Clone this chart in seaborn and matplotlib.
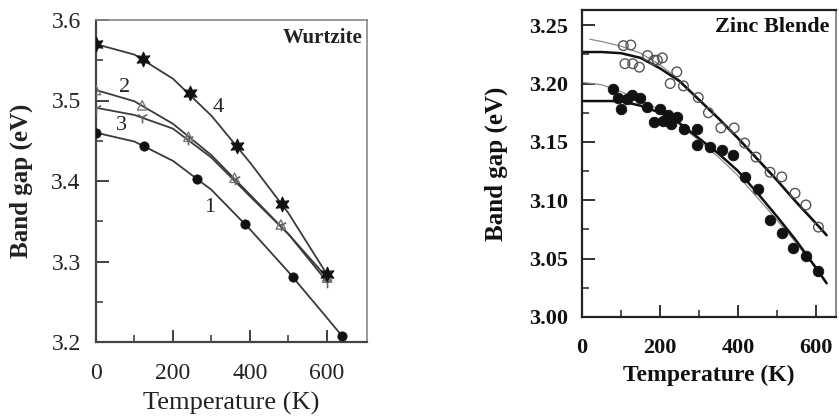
import matplotlib
matplotlib.use("Agg")
import matplotlib.pyplot as plt
import seaborn as sns
from matplotlib.ticker import FixedLocator

sns.set_theme(style="white")
plt.rcParams['font.family'] = ['Liberation Serif', 'DejaVu Serif']

# ---------------- Wurtzite (left) data: measured points ----------------
w_T1 = [0, 124, 262, 386, 511, 640]
w_E1 = [3.460, 3.443, 3.402, 3.346, 3.281, 3.207]
w_T2 = [0, 120, 240, 360, 480, 600]
w_E2 = [3.513, 3.494, 3.455, 3.404, 3.346, 3.280]
w_T3 = [0, 120, 240, 360, 480, 600]
w_E3 = [3.491, 3.479, 3.452, 3.402, 3.345, 3.275]
w_T4 = [0, 122, 244, 365, 482, 600]
w_E4 = [3.570, 3.552, 3.509, 3.443, 3.372, 3.284]
# fitted curves
w_fit_T = [0, 100, 200, 300, 400, 500, 600]
w_fit1_T = [0, 100, 200, 300, 400, 500, 600, 640]
w_fit1 = [3.460, 3.449, 3.425, 3.389, 3.340, 3.287, 3.230, 3.207]
w_fit2 = [3.513, 3.499, 3.471, 3.432, 3.383, 3.334, 3.280]
w_fit3 = [3.491, 3.482, 3.465, 3.429, 3.381, 3.334, 3.275]
w_fit4 = [3.570, 3.557, 3.527, 3.481, 3.423, 3.360, 3.284]
w_labels = ["1", "2", "3", "4"]
w_label_T = [296, 75, 67, 317]
w_label_E = [3.367, 3.516, 3.469, 3.491]

# ---------------- Zinc blende (right) data ----------------
zb_open_T = [106, 125, 110, 130, 147, 168, 185, 193, 206, 243, 226, 260, 298, 324,
             356, 390, 417, 446, 482, 512, 546, 574, 606]
zb_open_E = [3.2325, 3.233, 3.217, 3.217, 3.214, 3.224, 3.220, 3.220, 3.222, 3.210,
             3.200, 3.198, 3.188, 3.175, 3.162, 3.162, 3.149, 3.137, 3.124, 3.120,
             3.106, 3.096, 3.077]
zb_fill_T = [80, 93, 99, 115, 127, 149, 167, 185, 200, 208, 221, 227, 244, 262, 294,
             296, 328, 358, 388, 418, 450, 482, 512, 540, 574, 606]
zb_fill_E = [3.195, 3.188, 3.178, 3.187, 3.190, 3.188, 3.180, 3.167, 3.178, 3.168,
             3.173, 3.165, 3.171, 3.161, 3.161, 3.147, 3.146, 3.143, 3.139, 3.120,
             3.110, 3.083, 3.072, 3.059, 3.052, 3.039]

fit_T = [0, 50, 100, 150, 200, 250, 300, 350, 400, 450, 500, 550, 600, 627]
open_thick = [3.227, 3.227, 3.226, 3.222, 3.213, 3.202, 3.186, 3.170, 3.153, 3.135,
              3.117, 3.098, 3.080, 3.070]
open_thin_T = [20, 50, 100, 150, 200, 250, 300, 350, 400, 450, 500, 550, 600, 627]
open_thin = [3.238, 3.236, 3.232, 3.226, 3.216, 3.203, 3.187, 3.171, 3.154, 3.136,
             3.118, 3.099, 3.081, 3.071]
fill_thick = [3.185, 3.185, 3.185, 3.181, 3.175, 3.166, 3.153, 3.140, 3.125, 3.106,
              3.086, 3.065, 3.042, 3.029]
fill_thin = [3.201, 3.199, 3.193, 3.186, 3.177, 3.165, 3.151, 3.137, 3.121, 3.102,
             3.083, 3.063, 3.041, 3.028]

fig = plt.figure(figsize=(8.39, 4.16), dpi=100)
fig.patch.set_facecolor("white")

W, H = 839, 416
def axes_px(x0, y0, x1, y1):
    return fig.add_axes([x0 / W, (H - y1) / H, (x1 - x0) / W, (y1 - y0) / H])

# ================= Left panel =================
ax1 = axes_px(96, 20, 367, 342)
ax1.set_facecolor("white")
lc = "#3a3a3a"
for T, E in [(w_fit1_T, w_fit1), (w_fit_T, w_fit2), (w_fit_T, w_fit3), (w_fit_T, w_fit4)]:
    sns.lineplot(x=T, y=E, ax=ax1, color=lc, lw=1.3, sort=False)
sns.scatterplot(x=w_T1, y=w_E1, ax=ax1, marker="o", s=45, color="#111111",
                edgecolor="#111111", zorder=5)
sns.scatterplot(x=w_T2, y=w_E2, ax=ax1, marker="^", s=45, facecolor="none",
                edgecolor="#777777", linewidth=1.0, zorder=5)
sns.scatterplot(x=w_T3, y=w_E3, ax=ax1, marker="1", s=70, color="#666666",
                linewidth=1.2, zorder=5)
sns.scatterplot(x=w_T4, y=w_E4, ax=ax1, marker=(6, 1, 0), s=110, color="#111111",
                edgecolor="#111111", zorder=6)
for lab, t, e in zip(w_labels, w_label_T, w_label_E):
    ax1.text(t, e, lab, fontsize=16, ha="center", va="center", color="#222222")
ax1.text(0.985, 0.945, "Wurtzite", transform=ax1.transAxes, ha="right", va="center",
         fontsize=15, fontweight="bold", color="#222222")

ax1.set_xlim(0, 704)
ax1.set_ylim(3.2, 3.6)
ax1.set_xticks([0, 200, 400, 600])
ax1.set_xticklabels(["0", "200", "400", "600"])
ax1.set_yticks([3.2, 3.3, 3.4, 3.5, 3.6])
ax1.set_yticklabels(["3.2", "3.3", "3.4", "3.5", "3.6"])
ax1.xaxis.set_minor_locator(FixedLocator([100, 300, 500]))
ax1.yaxis.set_minor_locator(FixedLocator([3.25, 3.35, 3.45, 3.55]))
ax1.tick_params(axis="both", which="major", direction="in", length=9, width=1.3,
                labelsize=17, colors="#333333", labelcolor="#222222")
ax1.tick_params(axis="both", which="minor", direction="in", length=5, width=1.1,
                colors="#333333")
ax1.tick_params(axis="x", which="both", pad=15, bottom=True)
ax1.tick_params(axis="y", which="both", pad=11, left=True)
for sp in ["left", "bottom"]:
    ax1.spines[sp].set_color("#444444")
    ax1.spines[sp].set_linewidth(1.6)
for sp in ["top", "right"]:
    ax1.spines[sp].set_color("#888888")
    ax1.spines[sp].set_linewidth(1.2)
ax1.set_xlabel("Temperature (K)", fontsize=19, color="#222222")
ax1.set_ylabel("Band gap (eV)", fontsize=18, fontweight="bold", color="#222222")
ax1.xaxis.label.set_va("center")
ax1.yaxis.label.set_va("center")
ax1.xaxis.set_label_coords(0.5, (342 - 403) / 322)
ax1.yaxis.set_label_coords((21 - 96) / 271, 0.5)

# ================= Right panel =================
ax2 = axes_px(582, 10, 836, 317)
ax2.set_facecolor("white")
sns.lineplot(x=open_thin_T, y=open_thin, ax=ax2, color="#8a8a8a", lw=0.9, sort=False)
sns.lineplot(x=fit_T, y=fill_thin, ax=ax2, color="#8a8a8a", lw=0.9, sort=False)
sns.lineplot(x=fit_T, y=open_thick, ax=ax2, color="#111111", lw=1.8, sort=False)
sns.lineplot(x=fit_T, y=fill_thick, ax=ax2, color="#111111", lw=1.8, sort=False)
sns.scatterplot(x=zb_open_T, y=zb_open_E, ax=ax2, marker="o", s=48, facecolor="none",
                edgecolor="#555555", linewidth=1.0, zorder=5)
sns.scatterplot(x=zb_fill_T, y=zb_fill_E, ax=ax2, marker="o", s=58, color="#111111",
                edgecolor="#111111", zorder=5)
ax2.text(0.975, 0.945, "Zinc Blende", transform=ax2.transAxes, ha="right", va="center",
         fontsize=16, fontweight="bold", color="#111111")

ax2.set_xlim(0, 651)
ax2.set_ylim(3.0, 3.263)
ax2.set_xticks([0, 200, 400, 600])
ax2.set_xticklabels(["0", "200", "400", "600"], fontweight="bold")
ax2.set_yticks([3.00, 3.05, 3.10, 3.15, 3.20, 3.25])
ax2.set_yticklabels(["3.00", "3.05", "3.10", "3.15", "3.20", "3.25"], fontweight="bold")
ax2.xaxis.set_minor_locator(FixedLocator([100, 300, 500]))
ax2.yaxis.set_minor_locator(FixedLocator([3.025, 3.075, 3.125, 3.175, 3.225]))
ax2.tick_params(axis="both", which="major", direction="in", length=9, width=1.3,
                labelsize=16, colors="#222222", labelcolor="#111111")
ax2.tick_params(axis="both", which="minor", direction="in", length=5, width=1.1,
                colors="#222222")
ax2.tick_params(axis="x", which="both", pad=15, bottom=True)
ax2.tick_params(axis="y", which="both", pad=10, left=True)
for sp in ["left", "bottom", "top"]:
    ax2.spines[sp].set_color("#222222")
    ax2.spines[sp].set_linewidth(1.6)
ax2.spines["right"].set_color("#777777")
ax2.spines["right"].set_linewidth(1.2)
ax2.set_xlabel("Temperature (K)", fontsize=17, fontweight="bold", color="#111111")
ax2.set_ylabel("Band gap (eV)", fontsize=18, fontweight="bold", color="#111111")
ax2.xaxis.label.set_va("center")
ax2.yaxis.label.set_va("center")
ax2.xaxis.set_label_coords(0.5, (317 - 375) / 307)
ax2.yaxis.set_label_coords((496 - 582) / 254, 0.5)

fig.savefig("out.png", dpi=100, facecolor="white")
